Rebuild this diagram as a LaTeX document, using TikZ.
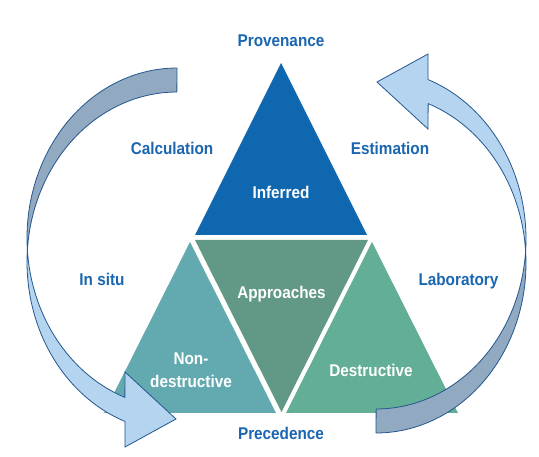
\documentclass[tikz,border=0pt]{standalone}
\usepackage{fontspec}
\newfontfamily\labfont[FakeStretch=0.9,BoldFont={Liberation Sans Bold},BoldFeatures={FakeStretch=0.9}]{Liberation Sans}
\definecolor{txtblue}{HTML}{1A66B0}
\definecolor{infblue}{HTML}{0F67B0}
\definecolor{appgreen}{HTML}{629886}
\definecolor{ndteal}{HTML}{62AAAF}
\definecolor{dgreen}{HTML}{63AE96}
\definecolor{arrback}{HTML}{91A9C1}
\definecolor{arrfront}{HTML}{B4D4F0}
\definecolor{arrline}{HTML}{24578E}
\tikzset{
  x=1pt,y=-1pt,
  lab/.style={font=\labfont\bfseries\fontsize{17}{20}\selectfont,text=txtblue,anchor=base,inner sep=0pt},
  inlab/.style={font=\labfont\bfseries\fontsize{17}{20}\selectfont,text=white,anchor=base,inner sep=0pt},
  arrowback/.style={fill=arrback,draw=arrline,line width=0.8pt,line join=round},
  arrowfront/.style={fill=arrfront,draw=arrline,line width=0.8pt,line join=miter},
}
\begin{document}
\begin{tikzpicture}
\useasboundingbox[fill=white] (0,0) rectangle (539,457);
% triangles
\fill[infblue] (281,63) -- (367,235) -- (195,235) -- cycle;
\fill[appgreen] (195,240) -- (368,240) -- (281.5,412) -- cycle;
\fill[ndteal] (190,242) -- (276,413) -- (104,413) -- cycle;
\fill[dgreen] (372,242) -- (458,413) -- (286,413) -- cycle;
% curved arrows
\newcommand\curvedarrow{%
  \filldraw[arrowback] plot[domain=0:1,samples=60,smooth] ({177+150*cos(270-94.05*\x)},{238+170*sin(270-94.05*\x)})
    -- plot[domain=0:1,samples=60,smooth] ({177+150*cos(184.05+85.95*\x)},{262+170*sin(184.05+85.95*\x)}) -- cycle;
  \filldraw[arrowfront] plot[domain=0:1,samples=60,smooth] ({177+150*cos(175.95-65.65*\x)},{238+170*sin(175.95-65.65*\x)})
    -- (125,372) -- (176,419) -- (125,447)
    -- plot[domain=0:1,samples=60,smooth] ({177+150*cos(110.3+73.75*\x)},{262+170*sin(110.3+73.75*\x)}) -- cycle;
}
\curvedarrow
\begin{scope}[rotate around={180:(276.5,250.5)}]
\curvedarrow
\end{scope}
% labels
\node[lab] (prov) at (281,47) {Provenance};
\node[lab] (calc) at (172,154.5) {Calculation};
\node[lab] (est) at (390,155) {Estimation};
\node[lab] (insitu) at (102,286) {In situ};
\node[lab] (lab) at (458.5,286) {Laboratory};
\node[lab] (prec) at (281,439) {Precedence};
\node[inlab] (inf) at (281,199) {Inferred};
\node[inlab] (app) at (281.5,298.5) {Approaches};
\node[inlab] (non) at (191,365) {Non-};
\node[inlab] (nondes) at (191,388) {destructive};
\node[inlab] (des) at (371,377) {Destructive};
\end{tikzpicture}
\end{document}
